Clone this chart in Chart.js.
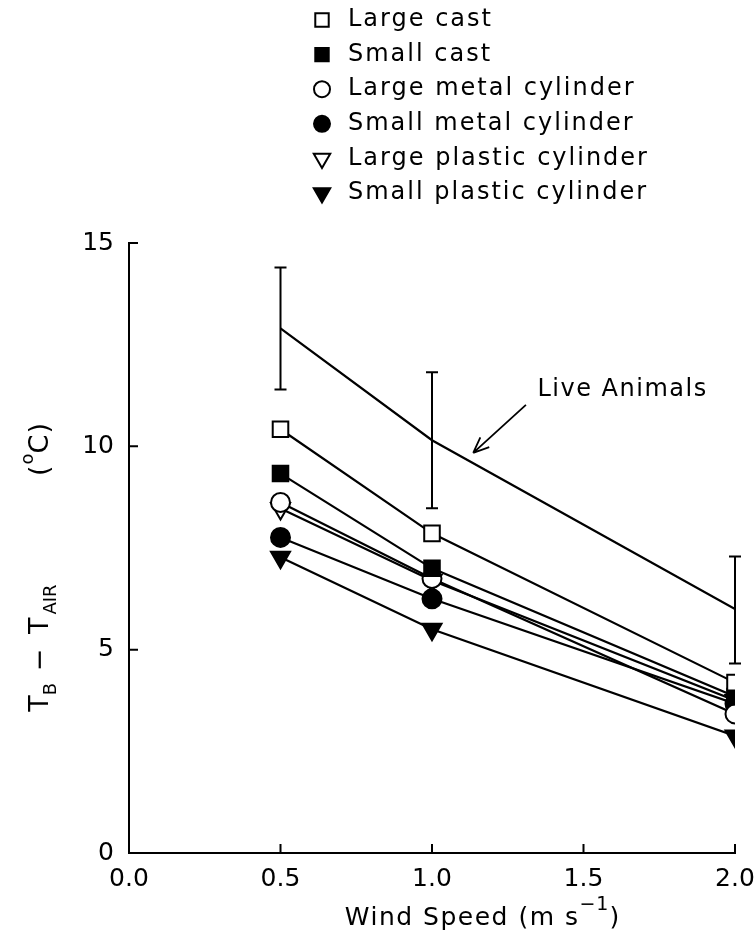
<!DOCTYPE html>
<html>
<head>
<meta charset="utf-8">
<script src="https://cdn.jsdelivr.net/npm/chart.js@4.4.0/dist/chart.umd.min.js"></script>
<style>
  html, body { margin: 0; padding: 0; background: #fff; }
  #wrap { position: relative; width: 755px; height: 938px; }
</style>
</head>
<body>
<div id="wrap"><canvas id="c" width="755" height="938"></canvas></div>
<script>
// ---- data ----
const windSpeeds = [0.5, 1.0, 2.0];
const liveAnimals = [12.9, 10.15, 6.0];
const liveLower = [11.4, 8.48, 4.66];
const liveUpper = [14.4, 11.82, 7.29];
const largeCast = [10.42, 7.86, 4.19];
const smallCast = [9.33, 7.0, 3.85];
const largeMetal = [8.62, 6.75, 3.42];
const smallMetal = [7.76, 6.25, 3.67];
const largePlastic = [8.47, 6.7, 3.75];
const smallPlastic = [7.27, 5.5, 2.88];
const seriesNames = ['Large cast', 'Small cast', 'Large metal cylinder', 'Small metal cylinder', 'Large plastic cylinder', 'Small plastic cylinder'];
const xTicks = [0.0, 0.5, 1.0, 1.5, 2.0];
const yTicks = [0, 5, 10, 15];

const FONT = '"DejaVu Sans", sans-serif';
const pts = arr => arr.map((v, i) => ({x: windSpeeds[i], y: v}));

const styles = [
  {pointStyle: 'rect', fill: '#fff', r: 11, rot: 0},
  {pointStyle: 'rect', fill: '#000', r: 11, rot: 0},
  {pointStyle: 'circle', fill: '#fff', r: 9.5, rot: 0},
  {pointStyle: 'circle', fill: '#000', r: 9.5, rot: 0},
  {pointStyle: 'triangle', fill: '#fff', r: 11, rot: 180},
  {pointStyle: 'triangle', fill: '#000', r: 11, rot: 180}
];
const seriesData = [largeCast, smallCast, largeMetal, smallMetal, largePlastic, smallPlastic];

const datasets = [{
  label: 'Live Animals',
  data: pts(liveAnimals),
  borderColor: '#000', borderWidth: 2.2, pointRadius: 0, fill: false, tension: 0
}];
seriesData.forEach((d, i) => {
  datasets.push({
    label: seriesNames[i],
    data: pts(d),
    borderColor: '#000', borderWidth: 2.2,
    pointStyle: styles[i].pointStyle,
    pointRotation: styles[i].rot,
    pointRadius: styles[i].r,
    pointBackgroundColor: styles[i].fill,
    pointBorderColor: '#000', pointBorderWidth: 2,
    fill: false, tension: 0
  });
});

function spacedText(ctx, parts, cx, cy, align) {
  let tw = 0;
  parts.forEach(s => {
    ctx.font = s.f + 'px ' + FONT;
    ctx.letterSpacing = (s.ls || 0) + 'px';
    s.w = ctx.measureText(s.t).width; tw += s.w;
  });
  let x = align === 'center' ? cx - tw / 2 : cx;
  parts.forEach(s => {
    ctx.font = s.f + 'px ' + FONT;
    ctx.letterSpacing = (s.ls || 0) + 'px';
    ctx.fillText(s.t, x, cy + s.dy); x += s.w;
  });
  ctx.letterSpacing = '0px';
}

const extras = {
  id: 'extras',
  afterDraw(chart) {
    const ctx = chart.ctx;
    const xs = chart.scales.x, ys = chart.scales.y;
    const area = chart.chartArea;
    ctx.save();
    ctx.strokeStyle = '#000';
    ctx.fillStyle = '#000';
    ctx.lineWidth = 2;
    // inward tick marks
    ctx.beginPath();
    xTicks.forEach(v => {
      const px = xs.getPixelForValue(v);
      ctx.moveTo(px, area.bottom); ctx.lineTo(px, area.bottom - 9);
    });
    yTicks.forEach(v => {
      const py = ys.getPixelForValue(v);
      ctx.moveTo(area.left, py); ctx.lineTo(area.left + 9, py);
    });
    ctx.stroke();
    // error bars for live animals
    ctx.lineWidth = 2;
    windSpeeds.forEach((w, i) => {
      const px = xs.getPixelForValue(w);
      const y1 = ys.getPixelForValue(liveLower[i]);
      const y2 = ys.getPixelForValue(liveUpper[i]);
      ctx.beginPath();
      ctx.moveTo(px, y1); ctx.lineTo(px, y2);
      ctx.moveTo(px - 6, y1); ctx.lineTo(px + 6, y1);
      ctx.moveTo(px - 6, y2); ctx.lineTo(px + 6, y2);
      ctx.stroke();
    });
    // Live Animals label + arrow
    ctx.textAlign = 'left';
    ctx.textBaseline = 'middle';
    spacedText(ctx, [{t: 'Live Animals', f: 24, ls: 1.5, dy: 0}], xs.getPixelForValue(1.348), ys.getPixelForValue(11.4), 'left');
    const ax1 = xs.getPixelForValue(1.31), ay1 = ys.getPixelForValue(11.02);
    const ax2 = xs.getPixelForValue(1.136), ay2 = ys.getPixelForValue(9.84);
    ctx.lineWidth = 1.8;
    ctx.beginPath();
    ctx.moveTo(ax1, ay1); ctx.lineTo(ax2, ay2);
    const ang = Math.atan2(ay2 - ay1, ax2 - ax1);
    const hl = 17;
    ctx.moveTo(ax2, ay2); ctx.lineTo(ax2 - hl * Math.cos(ang - 0.4), ay2 - hl * Math.sin(ang - 0.4));
    ctx.moveTo(ax2, ay2); ctx.lineTo(ax2 - hl * Math.cos(ang + 0.4), ay2 - hl * Math.sin(ang + 0.4));
    ctx.stroke();

    // legend
    const lx = 322, ly0 = 20, ldy = 34.6;
    seriesNames.forEach((name, i) => {
      const y = ly0 + i * ldy;
      ctx.fillStyle = styles[i].fill;
      ctx.strokeStyle = '#000';
      ctx.lineWidth = 2;
      Chart.helpers.drawPoint(ctx, {
        pointStyle: styles[i].pointStyle,
        rotation: styles[i].rot,
        radius: styles[i].pointStyle === 'rect' ? 9.5 : (styles[i].pointStyle === 'circle' ? 8 : 9.5),
        borderWidth: 2
      }, lx, y);
      ctx.fillStyle = '#000';
      ctx.textAlign = 'left';
      ctx.textBaseline = 'middle';
      spacedText(ctx, [{t: name, f: 24, ls: 2, dy: 0}], 348, y, 'left');
    });

    // x title: Wind Speed (m s^-1)
    ctx.fillStyle = '#000';
    ctx.textBaseline = 'alphabetic';
    ctx.textAlign = 'left';
    spacedText(ctx, [
      {t: 'Wind Speed (m s', f: 25, ls: 1.5, dy: 0},
      {t: '\u22121', f: 19, ls: 1, dy: -15},
      {t: ')', f: 25, ls: 0, dy: 0}
    ], 482, 925, 'center');

    // y title: T_B - T_AIR (°C)
    ctx.save();
    ctx.translate(48, 0);
    ctx.rotate(-Math.PI / 2);
    // rotated: x' = -y
    spacedText(ctx, [
      {t: 'T', f: 27, ls: 0, dy: 0},
      {t: 'B', f: 18, ls: 0, dy: 8},
      {t: ' \u2212 T', f: 27, ls: 3, dy: 0},
      {t: 'AIR', f: 18, ls: 0, dy: 8}
    ], -648, 0, 'center');
    spacedText(ctx, [
      {t: '(', f: 27, ls: 1, dy: 0},
      {t: 'o', f: 18, ls: 0, dy: -15},
      {t: 'C)', f: 27, ls: 1, dy: 0}
    ], -449, 0, 'center');
    ctx.restore();

    ctx.restore();
  }
};

new Chart(document.getElementById('c'), {
  type: 'line',
  data: {datasets},
  options: {
    responsive: false,
    animation: false,
    devicePixelRatio: 1,
    layout: {padding: {top: 243, right: 20, left: 0, bottom: 0}},
    plugins: {legend: {display: false}, tooltip: {enabled: false}},
    scales: {
      x: {
        type: 'linear', min: 0, max: 2.0,
        afterFit(s) { s.height = 85; s.paddingRight = 0; s.paddingLeft = 0; },
        grid: {display: false, drawTicks: false},
        border: {display: true, color: '#000', width: 2},
        ticks: {
          stepSize: 0.5, padding: 11, color: '#000', maxRotation: 0,
          font: {family: FONT, size: 25},
          callback: v => Number(v).toFixed(1)
        }
      },
      y: {
        type: 'linear', min: 0, max: 15,
        afterFit(s) { s.width = 129; },
        grid: {display: false, drawTicks: false},
        border: {display: true, color: '#000', width: 2},
        ticks: {
          stepSize: 5, padding: 15, color: '#000',
          font: {family: FONT, size: 25}
        }
      }
    }
  },
  plugins: [extras]
});
</script>
</body>
</html>
